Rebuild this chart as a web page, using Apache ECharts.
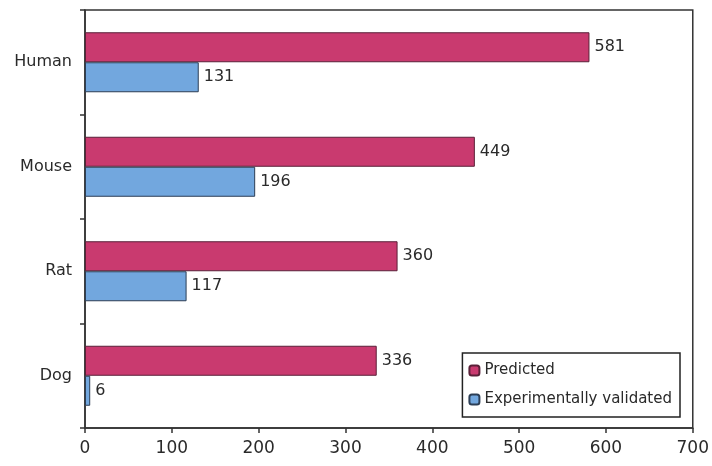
<!DOCTYPE html>
<html>
<head>
<meta charset="utf-8">
<script src="https://cdn.jsdelivr.net/npm/echarts@6/dist/echarts.min.js"></script>
<style>
  html, body { margin: 0; padding: 0; background: #fff; }
  #chart { width: 712px; height: 466px; }
</style>
</head>
<body>
<div id="chart"></div>
<script>
// species, top to bottom
const species = ['Human', 'Mouse', 'Rat', 'Dog'];
const predicted = [581, 449, 360, 336];
const validated = [131, 196, 117, 6];
const xTicks = [0, 100, 200, 300, 400, 500, 600, 700];

const chart = echarts.init(document.getElementById('chart'));
const textFont = 'DejaVu Sans';

function barLabel() {
    return {
        show: true,
        position: 'right',
        distance: 5,
        color: '#2a2a2a',
        fontFamily: textFont,
        fontSize: 16
    };
}

chart.setOption({
    animation: false,
    grid: {
        left: 85,
        right: 14,
        top: 10,
        bottom: 38,
        show: true,
        borderColor: '#333',
        borderWidth: 1.5
    },
    legend: {
        orient: 'vertical',
        right: 32,
        bottom: 49,
        padding: [10, 8, 10, 6],
        itemGap: 14,
        itemWidth: 10,
        itemHeight: 10,
        borderColor: '#222',
        borderWidth: 1.5,
        backgroundColor: '#fff',
        textStyle: { fontFamily: textFont, fontSize: 15, color: '#2a2a2a' },
        data: ['Predicted', 'Experimentally validated']
    },
    xAxis: {
        type: 'value',
        min: xTicks[0],
        max: xTicks[xTicks.length - 1],
        interval: 100,
        splitLine: { show: false },
        axisLine: { show: true, lineStyle: { color: '#333', width: 1.5 } },
        axisTick: { show: true, length: 5, lineStyle: { color: '#333', width: 1.5 } },
        axisLabel: { color: '#2a2a2a', fontFamily: textFont, fontSize: 17, margin: 12 }
    },
    yAxis: {
        type: 'category',
        inverse: true,
        data: species,
        axisLine: { show: true, lineStyle: { color: '#333', width: 1.5 } },
        axisTick: { show: true, length: 5, lineStyle: { color: '#333', width: 1.5 } },
        axisLabel: { color: '#2a2a2a', fontFamily: textFont, fontSize: 16, margin: 13 }
    },
    series: [
        {
            name: 'Predicted',
            type: 'bar',
            data: predicted,
            barWidth: 30,
            barGap: '0%',
            itemStyle: { color: '#c93a6f', borderColor: '#5a2038', borderWidth: 1 },
            label: barLabel()
        },
        {
            name: 'Experimentally validated',
            type: 'bar',
            data: validated,
            barWidth: 30,
            itemStyle: { color: '#72a7de', borderColor: '#2c3e55', borderWidth: 1 },
            label: barLabel()
        }
    ]
});
</script>
</body>
</html>
